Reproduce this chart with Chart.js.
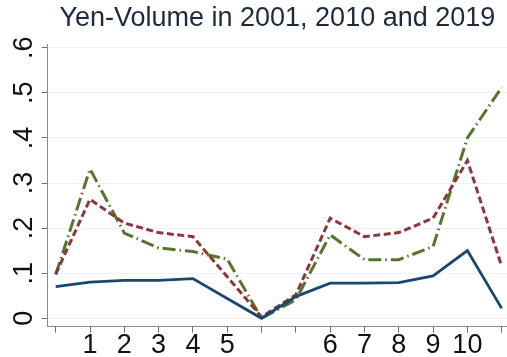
<!DOCTYPE html>
<html>
<head>
<meta charset="utf-8">
<script src="https://cdn.jsdelivr.net/npm/chart.js@4/dist/chart.umd.min.js"></script>
<style>
  html, body { margin: 0; padding: 0; background: #ffffff; }
  #wrap { width: 507px; height: 357px; }
</style>
</head>
<body>
<div id="wrap"><canvas id="c" width="507" height="357"></canvas></div>
<script>
// Tick labels along the horizontal axis (one slot per observation)
const xTickLabels = ['', '1', '2', '3', '4', '5', '', '', '6', '7', '8', '9', '10', ''];
// Vertical axis ticks and their labels
const yTickValues = [0, 0.1, 0.2, 0.3, 0.4, 0.5, 0.6];
const yTickLabels = ['0', '.1', '.2', '.3', '.4', '.5', '.6'];

// Yen volume shares by year
const vol2001 = [0.070, 0.080, 0.084, 0.084, 0.088, 0.044, 0.000, 0.048, 0.078, 0.078, 0.079, 0.094, 0.150, 0.022];
const vol2010 = [0.098, 0.264, 0.211, 0.190, 0.181, 0.092, 0.003, 0.052, 0.222, 0.181, 0.190, 0.222, 0.350, 0.115];
const vol2019 = [0.097, 0.331, 0.189, 0.156, 0.148, 0.131, 0.000, 0.041, 0.185, 0.130, 0.130, 0.159, 0.400, 0.512];

const FONT = "'Liberation Sans', Arial, Helvetica, sans-serif";

function toPoints(arr) {
  return arr.map((v, i) => ({ x: i, y: v }));
}

// Vertical axis labels are drawn rotated, reading bottom to top
const rotatedYLabels = {
  id: 'rotatedYLabels',
  afterDraw(chart) {
    const ys = chart.scales.y;
    const ctx = chart.ctx;
    ctx.save();
    ctx.fillStyle = '#111111';
    ctx.font = "27px " + FONT;
    ctx.textAlign = 'center';
    ctx.textBaseline = 'middle';
    ys.ticks.forEach((t, i) => {
      const py = ys.getPixelForValue(t.value);
      ctx.save();
      ctx.translate(25, py);
      ctx.rotate(-Math.PI / 2);
      ctx.fillText(yTickLabels[i], 0, 0);
      ctx.restore();
    });
    ctx.restore();
  }
};

new Chart(document.getElementById('c'), {
  type: 'line',
  data: {
    datasets: [
      {
        label: '2001',
        data: toPoints(vol2001),
        borderColor: '#1a476f',
        borderWidth: 2.8,
        pointRadius: 0,
        tension: 0
      },
      {
        label: '2010',
        data: toPoints(vol2010),
        borderColor: '#90353b',
        borderWidth: 3,
        borderDash: [7, 3.5],
        pointRadius: 0,
        tension: 0
      },
      {
        label: '2019',
        data: toPoints(vol2019),
        borderColor: '#55752f',
        borderWidth: 3,
        borderDash: [13, 4, 1.5, 4],
        pointRadius: 0,
        tension: 0
      }
    ]
  },
  options: {
    responsive: false,
    animation: false,
    devicePixelRatio: 1,
    layout: { padding: 0 },
    plugins: {
      legend: { display: false },
      tooltip: { enabled: false },
      title: {
        display: true,
        text: 'Yen-Volume in 2001, 2010 and 2019',
        color: '#1c2a3c',
        fullSize: false,
        font: { family: FONT, size: 27, weight: 'normal' },
        padding: { top: 2.5, bottom: 9.7 }
      }
    },
    scales: {
      x: {
        type: 'linear',
        min: -0.233,
        max: 13.155,
        afterBuildTicks(scale) {
          scale.ticks = xTickLabels.map((_, i) => ({ value: i }));
        },
        afterFit(scale) { scale.height = 30.3; },
        ticks: {
          autoSkip: false,
          maxRotation: 0,
          minRotation: 0,
          padding: -3,
          color: '#111111',
          font: { family: FONT, size: 27 },
          callback: (v) => xTickLabels[v]
        },
        grid: {
          drawOnChartArea: false,
          drawTicks: true,
          tickLength: 6,
          tickColor: '#6f6f6f',
          tickWidth: 1
        },
        border: { color: '#8a8a8a', width: 1 }
      },
      y: {
        type: 'linear',
        min: -0.0187,
        max: 0.607,
        afterBuildTicks(scale) {
          scale.ticks = yTickValues.map(v => ({ value: v }));
        },
        afterFit(scale) { scale.width = 47.7; },
        ticks: { display: false },
        grid: {
          color: '#eef2f4',
          lineWidth: 1,
          drawTicks: true,
          tickLength: 6,
          tickColor: '#6f6f6f',
          tickWidth: 1
        },
        border: { color: '#8a8a8a', width: 1 }
      }
    }
  },
  plugins: [rotatedYLabels]
});
</script>
</body>
</html>
